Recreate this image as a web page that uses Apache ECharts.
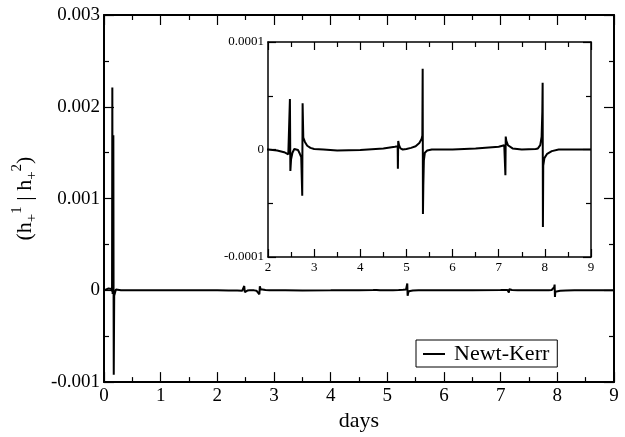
<!DOCTYPE html>
<html>
<head>
<meta charset="utf-8">
<script src="https://cdn.jsdelivr.net/npm/echarts@6/dist/echarts.min.js"></script>
<style>
  html, body { margin: 0; padding: 0; background: #fff; }
  #chart { width: 625px; height: 437px; }
</style>
</head>
<body>
<div id="chart"></div>
<script>
// time in days and overlap value (h+1|h+2)
const days = [
  0, 0.04, 0.08, 0.106, 0.13, 0.142, 0.147, 0.152, 0.165, 0.169, 0.172, 0.18, 0.194, 0.21, 0.3, 0.6, 1.0, 1.5,
  2.0, 2.2, 2.35, 2.44, 2.465, 2.475, 2.485, 2.5, 2.53, 2.57, 2.61, 2.65, 2.69, 2.72, 2.742, 2.75, 2.765,
  2.8, 2.85, 2.92, 3.0, 3.2, 3.5, 4.0, 4.5, 4.75, 4.81, 4.815, 4.822, 4.84, 4.87, 4.92,
  5.0, 5.1, 5.2, 5.28, 5.33, 5.345, 5.352, 5.358, 5.366, 5.378, 5.4, 5.45, 5.55,
  6.0, 6.5, 7.0, 7.12, 7.145, 7.152, 7.165, 7.2, 7.3, 7.5, 7.8,
  7.85, 7.9, 7.93, 7.945, 7.952, 7.958, 7.965, 7.99, 8.05, 8.15, 8.3, 9.0
];
const overlap = [
  0, 1e-5, 2e-5, 1e-5, 1.5e-5, -1e-5, 2.21e-3, -4e-5, 1.69e-3, -2e-5, -9.2e-4, -6e-5, -8e-5, 1e-5, 0, 0, 0, 0,
  0, -0.1e-5, -0.25e-5, -0.45e-5, -0.5e-5, 4.7e-5, -2.0e-5, -0.9e-5, -0.3e-5, 0.05e-5, 0.1e-5, -0.05e-5, -0.4e-5, -0.7e-5, -4.3e-5, 4.3e-5, 1.1e-5,
  0.7e-5, 0.35e-5, 0.15e-5, 0.05e-5, 0, -0.1e-5, -0.05e-5, 0.1e-5, 0.25e-5, 0.3e-5, -1.8e-5, 0.8e-5, 0.4e-5, 0.1e-5, 0,
  0.05e-5, 0.15e-5, 0.3e-5, 0.6e-5, 1.0e-5, 1.3e-5, 7.5e-5, -6.0e-5, -3.4e-5, -1.0e-5, -0.3e-5, -0.1e-5, 0,
  0, 0.1e-5, 0.25e-5, 0.4e-5, -2.4e-5, 1.2e-5, 0.8e-5, 0.4e-5, 0.1e-5, 0, 0.05e-5,
  0.1e-5, 0.4e-5, 1.2e-5, 3.5e-5, 6.2e-5, -7.2e-5, -1.5e-5, -0.8e-5, -0.4e-5, -0.15e-5, 0, 0
];
const xTicks = [0, 9, 1];
const yTicks = [-0.001, 0.003, 0.001];
const insetX = [2, 9, 1];
const insetY = [-0.0001, 0.0001, 0.0001];

const points = days.map((d, i) => [d, overlap[i]]);
const FONT = 'Liberation Serif';

function axisX(grid, range, pos, fontSize, showLabel, name) {
  return {
    gridIndex: grid, type: 'value', position: pos,
    min: range[0], max: range[1], interval: range[2],
    axisLine: { onZero: false, lineStyle: { color: '#000', width: grid === 0 ? 2 : 1.5 } },
    axisTick: { inside: true, length: grid === 0 ? 10 : 8, lineStyle: { color: '#000', width: 1.2 } },
    minorTick: { show: true, splitNumber: 2, length: 5, lineStyle: { color: '#000', width: 1.2 } },
    splitLine: { show: false },
    axisLabel: { show: showLabel, color: '#000', fontFamily: FONT, fontSize: fontSize, margin: 4 },
    name: name || '', nameLocation: 'middle', nameGap: 24,
    nameTextStyle: { color: '#000', fontFamily: FONT, fontSize: 22 }
  };
}
function axisY(grid, range, pos, fontSize, showLabel) {
  return {
    gridIndex: grid, type: 'value', position: pos,
    min: range[0], max: range[1], interval: range[2],
    axisLine: { onZero: false, lineStyle: { color: '#000', width: grid === 0 ? 2 : 1.5 } },
    axisTick: { inside: true, length: grid === 0 ? 10 : 8, lineStyle: { color: '#000', width: 1.2 } },
    minorTick: { show: true, splitNumber: 2, length: 5, lineStyle: { color: '#000', width: 1.2 } },
    splitLine: { show: false },
    axisLabel: { show: showLabel, color: '#000', fontFamily: FONT, fontSize: fontSize, margin: 4 }
  };
}

const chart = echarts.init(document.getElementById('chart'));
const yMain = axisY(0, yTicks, 'left', 19, true);
yMain.name = '(h{sb|+}{sp|1} | h{sb|+}{sp|2})';
yMain.nameLocation = 'middle';
yMain.nameGap = 64;
yMain.nameTextStyle = {
  color: '#000', fontFamily: FONT, fontSize: 22, lineHeight: 30,
  rich: {
    sp: { fontFamily: FONT, fontSize: 15, lineHeight: 15, verticalAlign: 'top', color: '#000' },
    sb: { fontFamily: FONT, fontSize: 15, lineHeight: 22, verticalAlign: 'bottom', color: '#000' }
  }
};

chart.setOption({
  animation: false,
  backgroundColor: '#fff',
  grid: [
    { left: 104, top: 15, width: 510, height: 375 },
    { left: 268, top: 42, width: 323, height: 215, show: true, backgroundColor: '#fff', borderWidth: 0 }
  ],
  xAxis: [
    axisX(0, xTicks, 'bottom', 19, true, 'days'),
    axisX(0, xTicks, 'top', 19, false),
    axisX(1, insetX, 'bottom', 13, true),
    axisX(1, insetX, 'top', 13, false)
  ],
  yAxis: [
    yMain,
    axisY(0, yTicks, 'right', 19, false),
    axisY(1, insetY, 'left', 13, true),
    axisY(1, insetY, 'right', 13, false)
  ],
  legend: {
    data: [{ name: 'Newt-Kerr', icon: 'rect' }],
    left: 416, top: 340,
    borderColor: '#000', borderWidth: 1, borderRadius: 0,
    padding: [3, 8, 2, 7],
    backgroundColor: '#fff',
    itemWidth: 22, itemHeight: 2, itemGap: 6,
    textStyle: { color: '#000', fontFamily: FONT, fontSize: 22, padding: [0, 0, 0, 4] }
  },
  series: [
    {
      name: 'Newt-Kerr', type: 'line', xAxisIndex: 0, yAxisIndex: 0,
      data: points, symbol: 'none', showSymbol: false,
      lineStyle: { color: '#000', width: 2 }, itemStyle: { color: '#000' }
    },
    {
      name: 'inset', type: 'line', xAxisIndex: 2, yAxisIndex: 2,
      data: points, symbol: 'none', showSymbol: false, clip: true,
      lineStyle: { color: '#000', width: 2 }, itemStyle: { color: '#000' }
    }
  ]
});
</script>
</body>
</html>
